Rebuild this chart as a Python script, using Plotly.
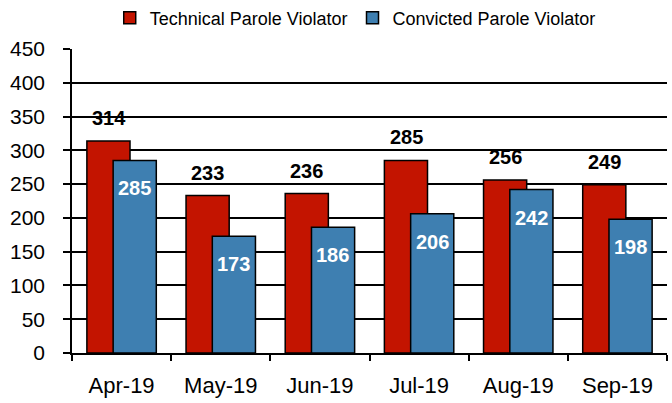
import plotly.graph_objects as go

months = ["Apr-19", "May-19", "Jun-19", "Jul-19", "Aug-19", "Sep-19"]
technical = [314, 233, 236, 285, 256, 249]
convicted = [285, 173, 186, 206, 242, 198]

RED = "#C31400"
BLUE = "#3E7FB1"
FONT = "Liberation Sans, Arial, sans-serif"

fig = go.Figure()

fig.add_trace(go.Bar(
    x=months, y=technical, name="Technical Parole Violator",
    marker=dict(color=RED, line=dict(color="black", width=1.5)),
    width=0.435, offset=-0.35,
))
fig.add_trace(go.Bar(
    x=months, y=convicted, name="Convicted Parole Violator",
    marker=dict(color=BLUE, line=dict(color="black", width=1.5)),
    width=0.435, offset=-0.085,
))

# подписи значений
for m, v in zip(months, technical):
    fig.add_annotation(x=m, y=v, text=f"<b>{v}</b>", showarrow=False,
                       xshift=-13, yshift=23,
                       font=dict(family=FONT, size=20, color="black"))
for m, v in zip(months, convicted):
    fig.add_annotation(x=m, y=v, text=f"<b>{v}</b>", showarrow=False,
                       xshift=13, yshift=-28,
                       font=dict(family=FONT, size=20, color="white"))

fig.update_layout(
    width=672, height=403,
    barmode="overlay",
    margin=dict(l=72, r=5, t=49, b=50, autoexpand=False),
    paper_bgcolor="white",
    plot_bgcolor="white",
    font=dict(family=FONT, color="black", size=21),
    showlegend=True,
    legend=dict(
        orientation="h", x=0.476, xanchor="center",
        yref="container", y=0.955, yanchor="middle",
        font=dict(family=FONT, size=18), traceorder="normal",
        bgcolor="rgba(0,0,0,0)",
    ),
    xaxis=dict(
        showline=True, linecolor="black", linewidth=1.5,
        ticks="outside", tickson="boundaries", ticklen=6, tickwidth=1.5,
        tickcolor="black", showgrid=False,
        ticklabelstandoff=12, automargin=False,
        tickfont=dict(family=FONT, size=22),
    ),
    yaxis=dict(
        range=[0, 450], dtick=50,
        showline=True, linecolor="black", linewidth=1.5,
        ticks="outside", ticklen=7, tickwidth=1.5, tickcolor="black",
        showgrid=True, gridcolor="black", gridwidth=1.5,
        zeroline=False, automargin=False,
        ticklabelstandoff=14,
        tickfont=dict(family=FONT, size=21),
    ),
)

fig.write_html("out.html", config={"displayModeBar": False},
               post_script="document.body.style.margin='0';")
